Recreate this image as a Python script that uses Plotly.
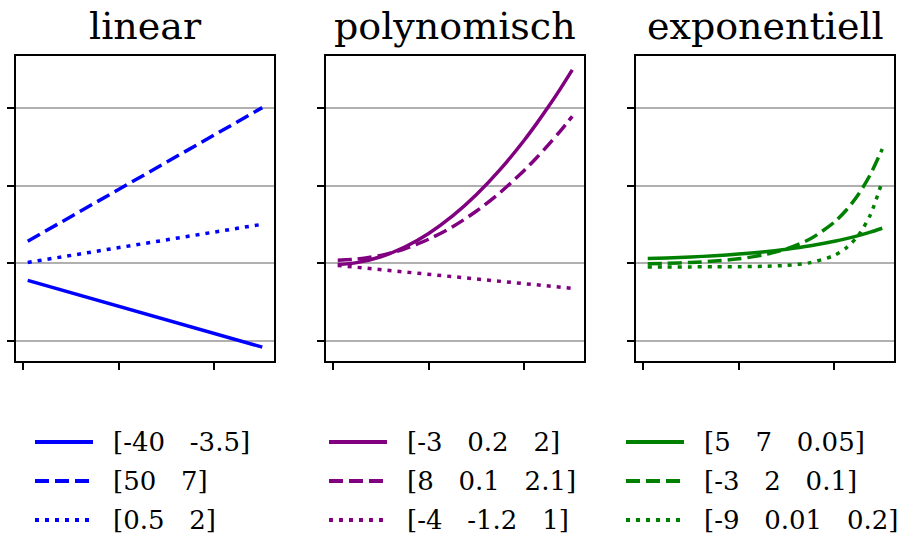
import plotly.graph_objects as go

W, H = 903, 535

titles = ["linear", "polynomisch", "exponentiell"]
colors = ["#0000ff", "#800080", "#008000"]
dashes = ["solid", "14px,6px", "4px,6px"]

# sample x positions (x from 1 to 50)
x_lin = [1, 50]
x_curve = [1, 5, 10, 15, 20, 25, 30, 35, 40, 42.5, 45, 47.5, 50]

# linear panel
lin_labels = ["[-40   -3.5]", "[50   7]", "[0.5   2]"]
lin_solid = [-43.5, -215]
lin_dash = [57, 400]
lin_dot = [2.5, 100.5]

# polynomial panel
poly_labels = ["[-3   0.2   2]", "[8   0.1   2.1]", "[-4   -1.2   1]"]
poly_solid = [-2.8, 2, 17, 42, 77, 122, 177, 242, 317, 358.3, 402, 448.3, 497]
poly_dash = [8.1, 10.9, 20.6, 37.5, 62.0, 94.2, 134.5, 182.8, 239.3, 270.8, 304.3, 339.9, 377.8]
poly_dot_x = [1, 50]
poly_dot = [-5.2, -64]

# exponential panel
exp_labels = ["[5   7   0.05]", "[-3   2   0.1]", "[-9   0.01   0.2]"]
exp_solid = [12.4, 14.0, 16.5, 19.8, 24.0, 29.4, 36.4, 45.3, 56.7, 63.6, 71.4, 80.3, 90.3]
exp_dash = [-0.8, 0.3, 2.4, 6.0, 11.8, 21.4, 37.2, 63.2, 106.2, 137.2, 177.0, 228.2, 293.8]
exp_dot = [-9.0, -9.0, -8.9, -8.8, -8.5, -7.5, -5.0, 2.0, 20.8, 40.1, 72.0, 124.6, 211.3]

y_ticks = [-200, 0, 200, 400]
x_ticks = [0, 20, 40]

panels = [
    (lin_labels, [(x_lin, lin_solid), (x_lin, lin_dash), (x_lin, lin_dot)]),
    (poly_labels, [(x_curve, poly_solid), (x_curve, poly_dash), (poly_dot_x, poly_dot)]),
    (exp_labels, [(x_curve, exp_solid), (x_curve, exp_dash), (x_curve, exp_dot)]),
]

# layout geometry (pixels)
ax_left = [16, 326, 636]
ax_w = 258
ax_top, ax_bot = 56, 361
leg_x0 = [35, 329, 626]
leg_rows = [442, 481, 520]

def px(x):
    return x / W

def py(y):
    return 1 - y / H

fig = go.Figure()
annotations = []
shapes = []

for i, (labels, series) in enumerate(panels):
    xa = "x" if i == 0 else f"x{i+1}"
    ya = "y" if i == 0 else f"y{i+1}"
    for j, (xs, ys) in enumerate(series):
        fig.add_trace(go.Scatter(
            x=xs, y=ys, mode="lines", xaxis=xa, yaxis=ya,
            line=dict(color=colors[i], width=3.5, dash=dashes[j], shape="spline", smoothing=0.8),
            showlegend=False, hoverinfo="skip",
        ))
        # legend sample and text
        shapes.append(dict(type="line", xref="paper", yref="paper",
                           x0=px(leg_x0[i]), x1=px(leg_x0[i] + 58),
                           y0=py(leg_rows[j]), y1=py(leg_rows[j]),
                           line=dict(color=colors[i], width=3.8, dash=dashes[j])))
        annotations.append(dict(xref="paper", yref="paper", x=px(leg_x0[i] + 76), y=py(leg_rows[j]),
                                xanchor="left", yanchor="middle", showarrow=False,
                                text=labels[j].replace(" ", "\u00a0"),
                                font=dict(family="DejaVu Serif", size=26, color="#000")))
    annotations.append(dict(xref="paper", yref="paper", x=px(ax_left[i] + ax_w / 2), y=py(26),
                            xanchor="center", yanchor="middle", showarrow=False,
                            text=titles[i], font=dict(family="DejaVu Serif", size=38, color="#000")))
    axis_common = dict(showline=True, linecolor="black", linewidth=1.6, mirror=True,
                       ticks="outside", ticklen=7, tickwidth=1.6, tickcolor="black",
                       showticklabels=False, zeroline=False)
    fig.layout[f"xaxis{'' if i == 0 else i+1}"] = dict(
        domain=[px(ax_left[i]), px(ax_left[i] + ax_w)], range=[-1.45, 52.45],
        tickvals=x_ticks, showgrid=False, anchor=ya, **axis_common)
    fig.layout[f"yaxis{'' if i == 0 else i+1}"] = dict(
        domain=[py(ax_bot), py(ax_top)], range=[-250.6, 532.6],
        tickvals=y_ticks, showgrid=True, gridcolor="#b0b0b0", gridwidth=1.6,
        anchor=xa, **axis_common)

fig.update_layout(width=W, height=H, margin=dict(l=0, r=0, t=0, b=0),
                  paper_bgcolor="white", plot_bgcolor="white",
                  annotations=annotations, shapes=shapes, showlegend=False)

fig.write_html("out.html", config={"displayModeBar": False},
               post_script="document.body.style.margin='0';document.body.style.overflow='hidden';")
